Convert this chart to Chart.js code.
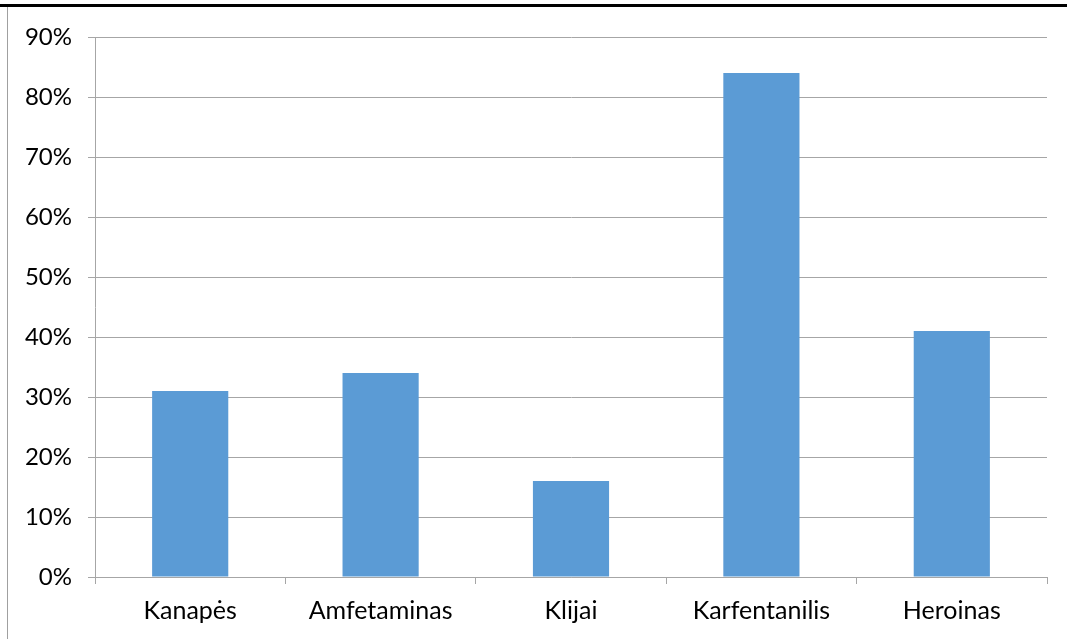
<!DOCTYPE html>
<html>
<head>
<meta charset="utf-8">
<script src="https://cdn.jsdelivr.net/npm/chart.js@4"></script>
<style>
  body { margin: 0; background: #fff; }
  #wrap { position: relative; width: 1067px; height: 639px; }
  #topline { position: absolute; left: 0; top: 4px; width: 1067px; height: 3px; background: #000; }
  #leftline { position: absolute; left: 7px; top: 7px; width: 1px; height: 632px; background: #a0a0a0; }
  canvas { position: absolute; left: 0; top: 0; }
</style>
</head>
<body>
<div id="wrap">
  <canvas id="c" width="1067" height="639"></canvas>
  <div id="topline"></div>
  <div id="leftline"></div>
</div>
<script>
// data
const categories = ['Kanapės', 'Amfetaminas', 'Klijai', 'Karfentanilis', 'Heroinas'];
const values = [31, 34, 16, 84, 41];

const ctx = document.getElementById('c').getContext('2d');
new Chart(ctx, {
  type: 'bar',
  data: {
    labels: categories,
    datasets: [{
      data: values,
      backgroundColor: '#5b9bd5',
      barPercentage: 0.4,
      categoryPercentage: 1
    }]
  },
  options: {
    responsive: false,
    animation: false,
    layout: { padding: { top: 37, right: 20, left: 0, bottom: 0 } },
    plugins: { legend: { display: false }, tooltip: { enabled: false } },
    scales: {
      x: {
        grid: { drawOnChartArea: false, color: '#a6a6a6', tickLength: 7, offset: true },
        border: { color: '#a6a6a6' },
        ticks: { color: '#000', font: { family: 'Lato', size: 25 }, padding: 12 },
        afterFit: s => { s.height = 62; }
      },
      y: {
        min: 0, max: 90,
        grid: { color: '#a6a6a6', tickLength: 7 },
        border: { color: '#a6a6a6' },
        ticks: { stepSize: 10, color: '#000', font: { family: 'Lato', size: 24 }, padding: 16,
          callback: v => v + '%' },
        afterFit: s => { s.width = 95; }
      }
    }
  }
});
</script>
</body>
</html>
